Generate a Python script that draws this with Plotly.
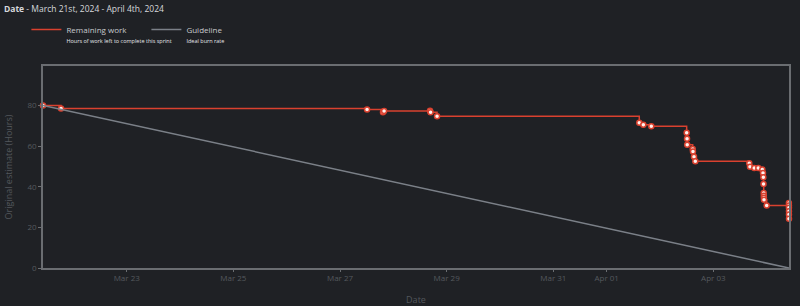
import plotly.graph_objects as go

# ---- data ----
work_times = [
    "2024-03-21 10:20", "2024-03-21 18:27",
    "2024-03-27 12:10", "2024-03-27 19:20", "2024-03-27 19:50",
    "2024-03-28 16:30", "2024-03-28 16:45", "2024-03-28 19:40",
    "2024-04-01 14:40", "2024-04-01 16:30", "2024-04-01 20:05",
    "2024-04-02 12:00", "2024-04-02 12:10", "2024-04-02 12:15",
    "2024-04-02 14:43", "2024-04-02 14:50", "2024-04-02 15:18", "2024-04-02 15:53",
    "2024-04-03 16:10", "2024-04-03 16:30", "2024-04-03 18:25", "2024-04-03 20:14",
    "2024-04-03 22:02", "2024-04-03 22:21", "2024-04-03 22:30", "2024-04-03 22:35",
    "2024-04-03 22:40", "2024-04-03 22:43", "2024-04-03 22:45", "2024-04-03 22:48",
    "2024-04-04 00:00",
    "2024-04-04 10:00", "2024-04-04 10:01", "2024-04-04 10:01", "2024-04-04 10:02",
    "2024-04-04 10:02", "2024-04-04 10:03",
]
work_hours = [
    80, 78.5,
    78.0, 76.6, 77.2,
    77.4, 76.6, 74.7,
    71.5, 70.5, 69.7,
    66.6, 63.6, 60.7,
    58.5, 57.3, 54.8, 52.5,
    51.5, 49.8, 49.2, 49.2,
    48.5, 46.7, 44.6, 41.3,
    36.9, 35.6, 34.6, 33.6,
    30.7,
    32.0, 30.7, 29.6, 27.9,
    26.3, 24.2,
]
guide_times = ["2024-03-21 10:20", "2024-04-04 10:03"]
guide_hours = [80, 0]

tick_vals = ["2024-03-23", "2024-03-25", "2024-03-27", "2024-03-29",
             "2024-03-31", "2024-04-01", "2024-04-03"]
tick_text = ["Mar 23", "Mar 25", "Mar 27", "Mar 29", "Mar 31", "Apr 01", "Apr 03"]
y_ticks = [0, 20, 40, 60, 80]

series_names = ["Remaining work", "Guideline"]
series_subtitles = ["Hours of work left to complete this sprint", "Ideal burn rate"]

BG = "#1f2125"
RED = "#d9412f"
GREY_LINE = "#7b8088"
FRAME = "#6a6d71"
TICK_FONT = "#55595e"


def legend_label(name, sub):
    return f"{name}<br><span style='font-size:5.5px;color:#e4e6e8'>{sub}</span>"


fig = go.Figure()
fig.add_trace(go.Scatter(
    x=work_times, y=work_hours, mode="lines+markers",
    line=dict(color=RED, width=1.5, shape="hv"),
    marker=dict(size=5, color="#fff2ee", line=dict(color=RED, width=1.5)),
    cliponaxis=False, showlegend=False,
))
fig.add_trace(go.Scatter(
    x=guide_times, y=guide_hours, mode="lines",
    line=dict(color=GREY_LINE, width=1.5), showlegend=False,
))
# legend-only entries (line symbol only)
for nm, sub, col in zip(series_names, series_subtitles, [RED, GREY_LINE]):
    fig.add_trace(go.Scatter(
        x=[None], y=[None], mode="lines",
        line=dict(color=col, width=1.5),
        name=legend_label(nm, sub),
    ))

fig.update_layout(
    width=800, height=306,
    paper_bgcolor=BG, plot_bgcolor=BG,
    margin=dict(l=43, r=11, t=66, b=38, autoexpand=False),
    font=dict(family="Open Sans, Noto Sans, sans-serif", color="#c8cacd"),
    title=dict(
        text="<b>Date</b> - March 21st, 2024 - April 4th, 2024",
        x=0.005, xanchor="left", xref="container",
        y=0.98, yanchor="top", yref="container",
        font=dict(size=8.5, color="#d6d8db"),
    ),
    showlegend=True,
    legend=dict(
        orientation="h", xref="container", yref="container",
        x=0.033, xanchor="left", y=0.942, yanchor="top",
        font=dict(size=8, color="#c8cacd"), bgcolor="rgba(0,0,0,0)",
        itemwidth=30, entrywidth=75, valign="top",
    ),
    xaxis=dict(
        type="date", range=[guide_times[0], guide_times[1]],
        tickvals=tick_vals, ticktext=tick_text,
        showgrid=False, zeroline=False,
        showline=True, linecolor=FRAME, linewidth=1.5, mirror=True,
        ticks="outside", ticklen=2, tickcolor=FRAME,
        tickfont=dict(size=8, color=TICK_FONT),
        title=dict(text="Date", font=dict(size=9, color="#53575c"), standoff=16),
        automargin=False,
    ),
    yaxis=dict(
        range=[0, 99.4], tickvals=y_ticks,
        showgrid=False, zeroline=False,
        showline=True, linecolor=FRAME, linewidth=1.5, mirror=True,
        ticks="outside", ticklen=3, tickcolor=FRAME,
        tickfont=dict(size=8, color=TICK_FONT),
        title=dict(text="Original estimate (Hours)", font=dict(size=9, color="#53575c"), standoff=13),
        automargin=False,
    ),
)

fig.write_html("out.html")
